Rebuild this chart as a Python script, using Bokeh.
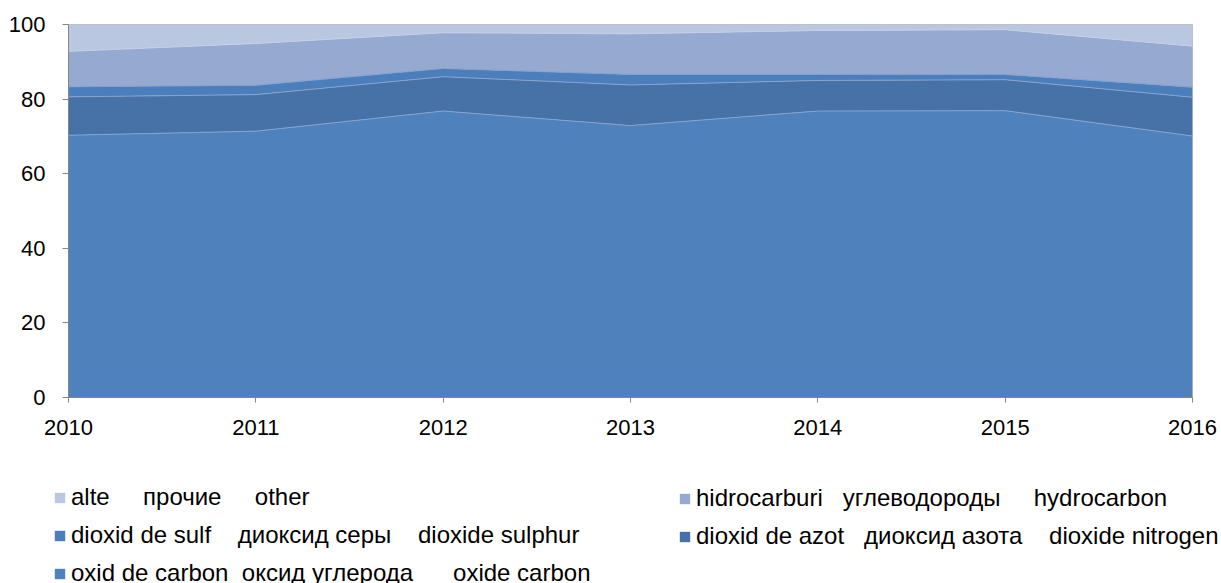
from bokeh.plotting import figure
from bokeh.layouts import column
from bokeh.models import ColumnDataSource, Legend, LegendItem, FixedTicker, Range1d, Plot
from bokeh.embed import file_html
from bokeh.resources import INLINE

# ---- data ----
years = [2010, 2011, 2012, 2013, 2014, 2015, 2016]
oxide_carbon = [70.3, 71.4, 76.8, 72.9, 76.8, 76.9, 70.1]
dioxide_nitrogen = [10.3, 9.8, 9.2, 10.9, 8.2, 8.3, 10.4]
dioxide_sulphur = [2.7, 2.5, 2.2, 2.8, 1.6, 1.4, 2.7]
hydrocarbon = [9.5, 11.2, 9.6, 10.9, 11.8, 12.0, 11.0]
other = [7.2, 5.1, 2.2, 2.5, 1.6, 1.4, 5.8]

y_ticks = [0, 20, 40, 60, 80, 100]

N = "\u00a0"
label_other = "alte" + N * 5 + "прочие" + N * 5 + "other"
label_hydrocarbon = "hidrocarburi" + N * 3 + "углеводороды" + N * 5 + "hydrocarbon"
label_sulphur = "dioxid de sulf" + N * 4 + "диоксид серы" + N * 4 + "dioxide sulphur"
label_nitrogen = "dioxid de azot" + N * 3 + "диоксид азота" + N * 4 + "dioxide nitrogen"
label_carbon = "oxid de carbon" + N * 2 + "оксид углерода" + N * 6 + "oxide carbon"

layer_names = ["oxide_carbon", "dioxide_nitrogen", "dioxide_sulphur", "hydrocarbon", "other"]
layer_colors = ["#4F81BD", "#4672A8", "#4B7EBB", "#95A9D1", "#B9C7E1"]
edge_colors = ["#86A3CF", "#86A3CF", "#7FA0D0", "#C3CFE6"]

FONT = "Liberation Sans"

source = ColumnDataSource(dict(
    year=years,
    oxide_carbon=oxide_carbon,
    dioxide_nitrogen=dioxide_nitrogen,
    dioxide_sulphur=dioxide_sulphur,
    hydrocarbon=hydrocarbon,
    other=other,
))

# ---- chart ----
p = figure(width=1221, height=455, output_backend="svg", toolbar_location=None,
           x_range=Range1d(2010, 2016), y_range=Range1d(0, 100),
           min_border_left=68, min_border_right=29, min_border_top=24,
           min_border_bottom=58)

areas = p.varea_stack(stackers=layer_names, x="year", color=layer_colors, source=source)
p.vline_stack(stackers=layer_names[:4], x="year", color=edge_colors, line_width=1,
              source=source)

p.xaxis.ticker = FixedTicker(ticks=years)
p.yaxis.ticker = FixedTicker(ticks=y_ticks)
for ax in (p.xaxis[0], p.yaxis[0]):
    ax.axis_line_color = "#868686"
    ax.major_tick_line_color = "#868686"
    ax.minor_tick_line_color = None
    ax.major_tick_in = 0
    ax.major_label_text_font = FONT
    ax.major_label_text_font_size = "22px"
    ax.major_label_text_color = "#000000"
p.xaxis.major_tick_out = 5
p.xaxis.major_label_standoff = 17
p.yaxis.major_tick_out = 6
p.yaxis.major_label_standoff = 17

p.xgrid.visible = False
p.ygrid.visible = False
p.outline_line_color = "#BFBFBF"
p.background_fill_color = "#FFFFFF"
p.border_fill_color = "#FFFFFF"

# ---- legend panel ----
pl = figure(width=1221, height=128, output_backend="svg", toolbar_location=None,
            x_range=Range1d(0, 1), y_range=Range1d(0, 1),
            x_axis_type=None, y_axis_type=None,
            min_border_left=0, min_border_right=0, min_border_top=0,
            min_border_bottom=0)
pl.xgrid.visible = False
pl.ygrid.visible = False
pl.outline_line_color = None

if "frame_align" in Plot.properties():
    p.frame_align = False
    pl.frame_align = False

# same stacked data, lying outside this panel's ranges: used only as legend swatches
sw = pl.varea_stack(stackers=layer_names, x="year", color=layer_colors, source=source)
swatches = dict(zip(layer_names, sw))


def make_legend(items, vx, vy):
    lg = Legend(items=items, location=(vx, vy), orientation="vertical",
                label_text_font=FONT, label_text_font_size="24px",
                label_text_color="#000000",
                glyph_width=13, glyph_height=13, label_standoff=5,
                spacing=10, label_height=26,
                padding=0, margin=0, border_line_color=None,
                background_fill_alpha=0)
    pl.add_layout(lg, "center")


make_legend([
    LegendItem(label=label_other, renderers=[swatches["other"]]),
    LegendItem(label=label_sulphur, renderers=[swatches["dioxide_sulphur"]]),
    LegendItem(label=label_carbon, renderers=[swatches["oxide_carbon"]]),
], 53, -4)
make_legend([
    LegendItem(label=label_hydrocarbon, renderers=[swatches["hydrocarbon"]]),
    LegendItem(label=label_nitrogen, renderers=[swatches["dioxide_nitrogen"]]),
], 678, 33)

layout = column(p, pl, spacing=0)
open("out.html", "w").write(file_html(layout, INLINE))
